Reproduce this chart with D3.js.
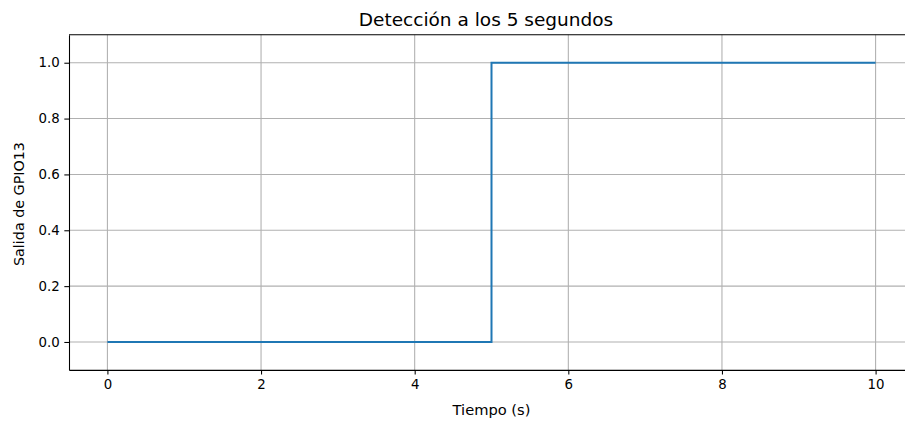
<!DOCTYPE html>
<html><head><meta charset="utf-8">
<script src="https://cdn.jsdelivr.net/npm/d3@7"></script>
<style>body{margin:0;background:#fff}svg{display:block}text{font-family:"DejaVu Sans",sans-serif;fill:#000}</style>
</head><body><svg id="c" width="905" height="421"></svg>
<script>
const times = [0,1,2,3,4,5,6,7,8,9,10];
const values = [0,0,0,0,0,1,1,1,1,1,1];
const xTicks = [0,2,4,6,8,10];
const yTicks = [0.0,0.2,0.4,0.6,0.8,1.0];
const title = "Detección a los 5 segundos";
const xLabel = "Tiempo (s)";
const yLabel = "Salida de GPIO13";

const svg = d3.select("#c");
const L = 69, R = 914, T = 34.8, B = 369.9;
const x = d3.scaleLinear().domain([-0.5, 10.5]).range([L, R]);
const y = d3.scaleLinear().domain([-0.1, 1.1]).range([B, T]);

const g = svg.append("g");
// grid
g.selectAll(".gx").data(xTicks).join("line")
  .attr("x1", d => x(d)).attr("x2", d => x(d)).attr("y1", T).attr("y2", B)
  .attr("stroke", "#b0b0b0").attr("stroke-width", 1.07);
g.selectAll(".gy").data(yTicks).join("line")
  .attr("y1", d => y(d)).attr("y2", d => y(d)).attr("x1", L).attr("x2", R)
  .attr("stroke", "#b0b0b0").attr("stroke-width", 1.07);

// line
const line = d3.line().x((d, i) => x(times[i])).y(d => y(d)).curve(d3.curveStepAfter);
g.append("path").datum(values).attr("d", line).attr("fill", "none")
  .attr("stroke", "#1f77b4").attr("stroke-width", 2);

// axes
const xa = svg.append("g").attr("transform", `translate(0,${B})`)
  .call(d3.axisBottom(x).tickValues(xTicks).tickFormat(d3.format("d")).tickSize(4.67).tickPadding(4.67).tickSizeOuter(0));
const ya = svg.append("g").attr("transform", `translate(${L},0)`)
  .call(d3.axisLeft(y).tickValues(yTicks).tickFormat(d3.format(".1f")).tickSize(4.67).tickPadding(4.67).tickSizeOuter(0));
[xa, ya].forEach(a => {
  a.selectAll("text").attr("font-size", "13.33px").attr("font-family", "DejaVu Sans").attr("fill", "#000");
  a.selectAll("line").attr("stroke", "#000").attr("stroke-width", 1.07);
  a.select(".domain").attr("stroke", "#000").attr("stroke-width", 1.07);
});
// top/right spines
svg.append("line").attr("x1", L).attr("x2", R).attr("y1", T).attr("y2", T).attr("stroke", "#000").attr("stroke-width", 1.07);
svg.append("line").attr("x1", R).attr("x2", R).attr("y1", T).attr("y2", B).attr("stroke", "#000").attr("stroke-width", 1.07);

svg.append("text").attr("x", 486).attr("y", 25.5).attr("text-anchor", "middle")
  .attr("font-size", "18.5px").text(title);
svg.append("text").attr("x", (L + R) / 2).attr("y", 415).attr("text-anchor", "middle")
  .attr("font-size", "14.67px").text(xLabel);
svg.append("text").attr("transform", `translate(24,204) rotate(-90)`).attr("text-anchor", "middle")
  .attr("font-size", "14.3px").text(yLabel);
</script></body></html>
